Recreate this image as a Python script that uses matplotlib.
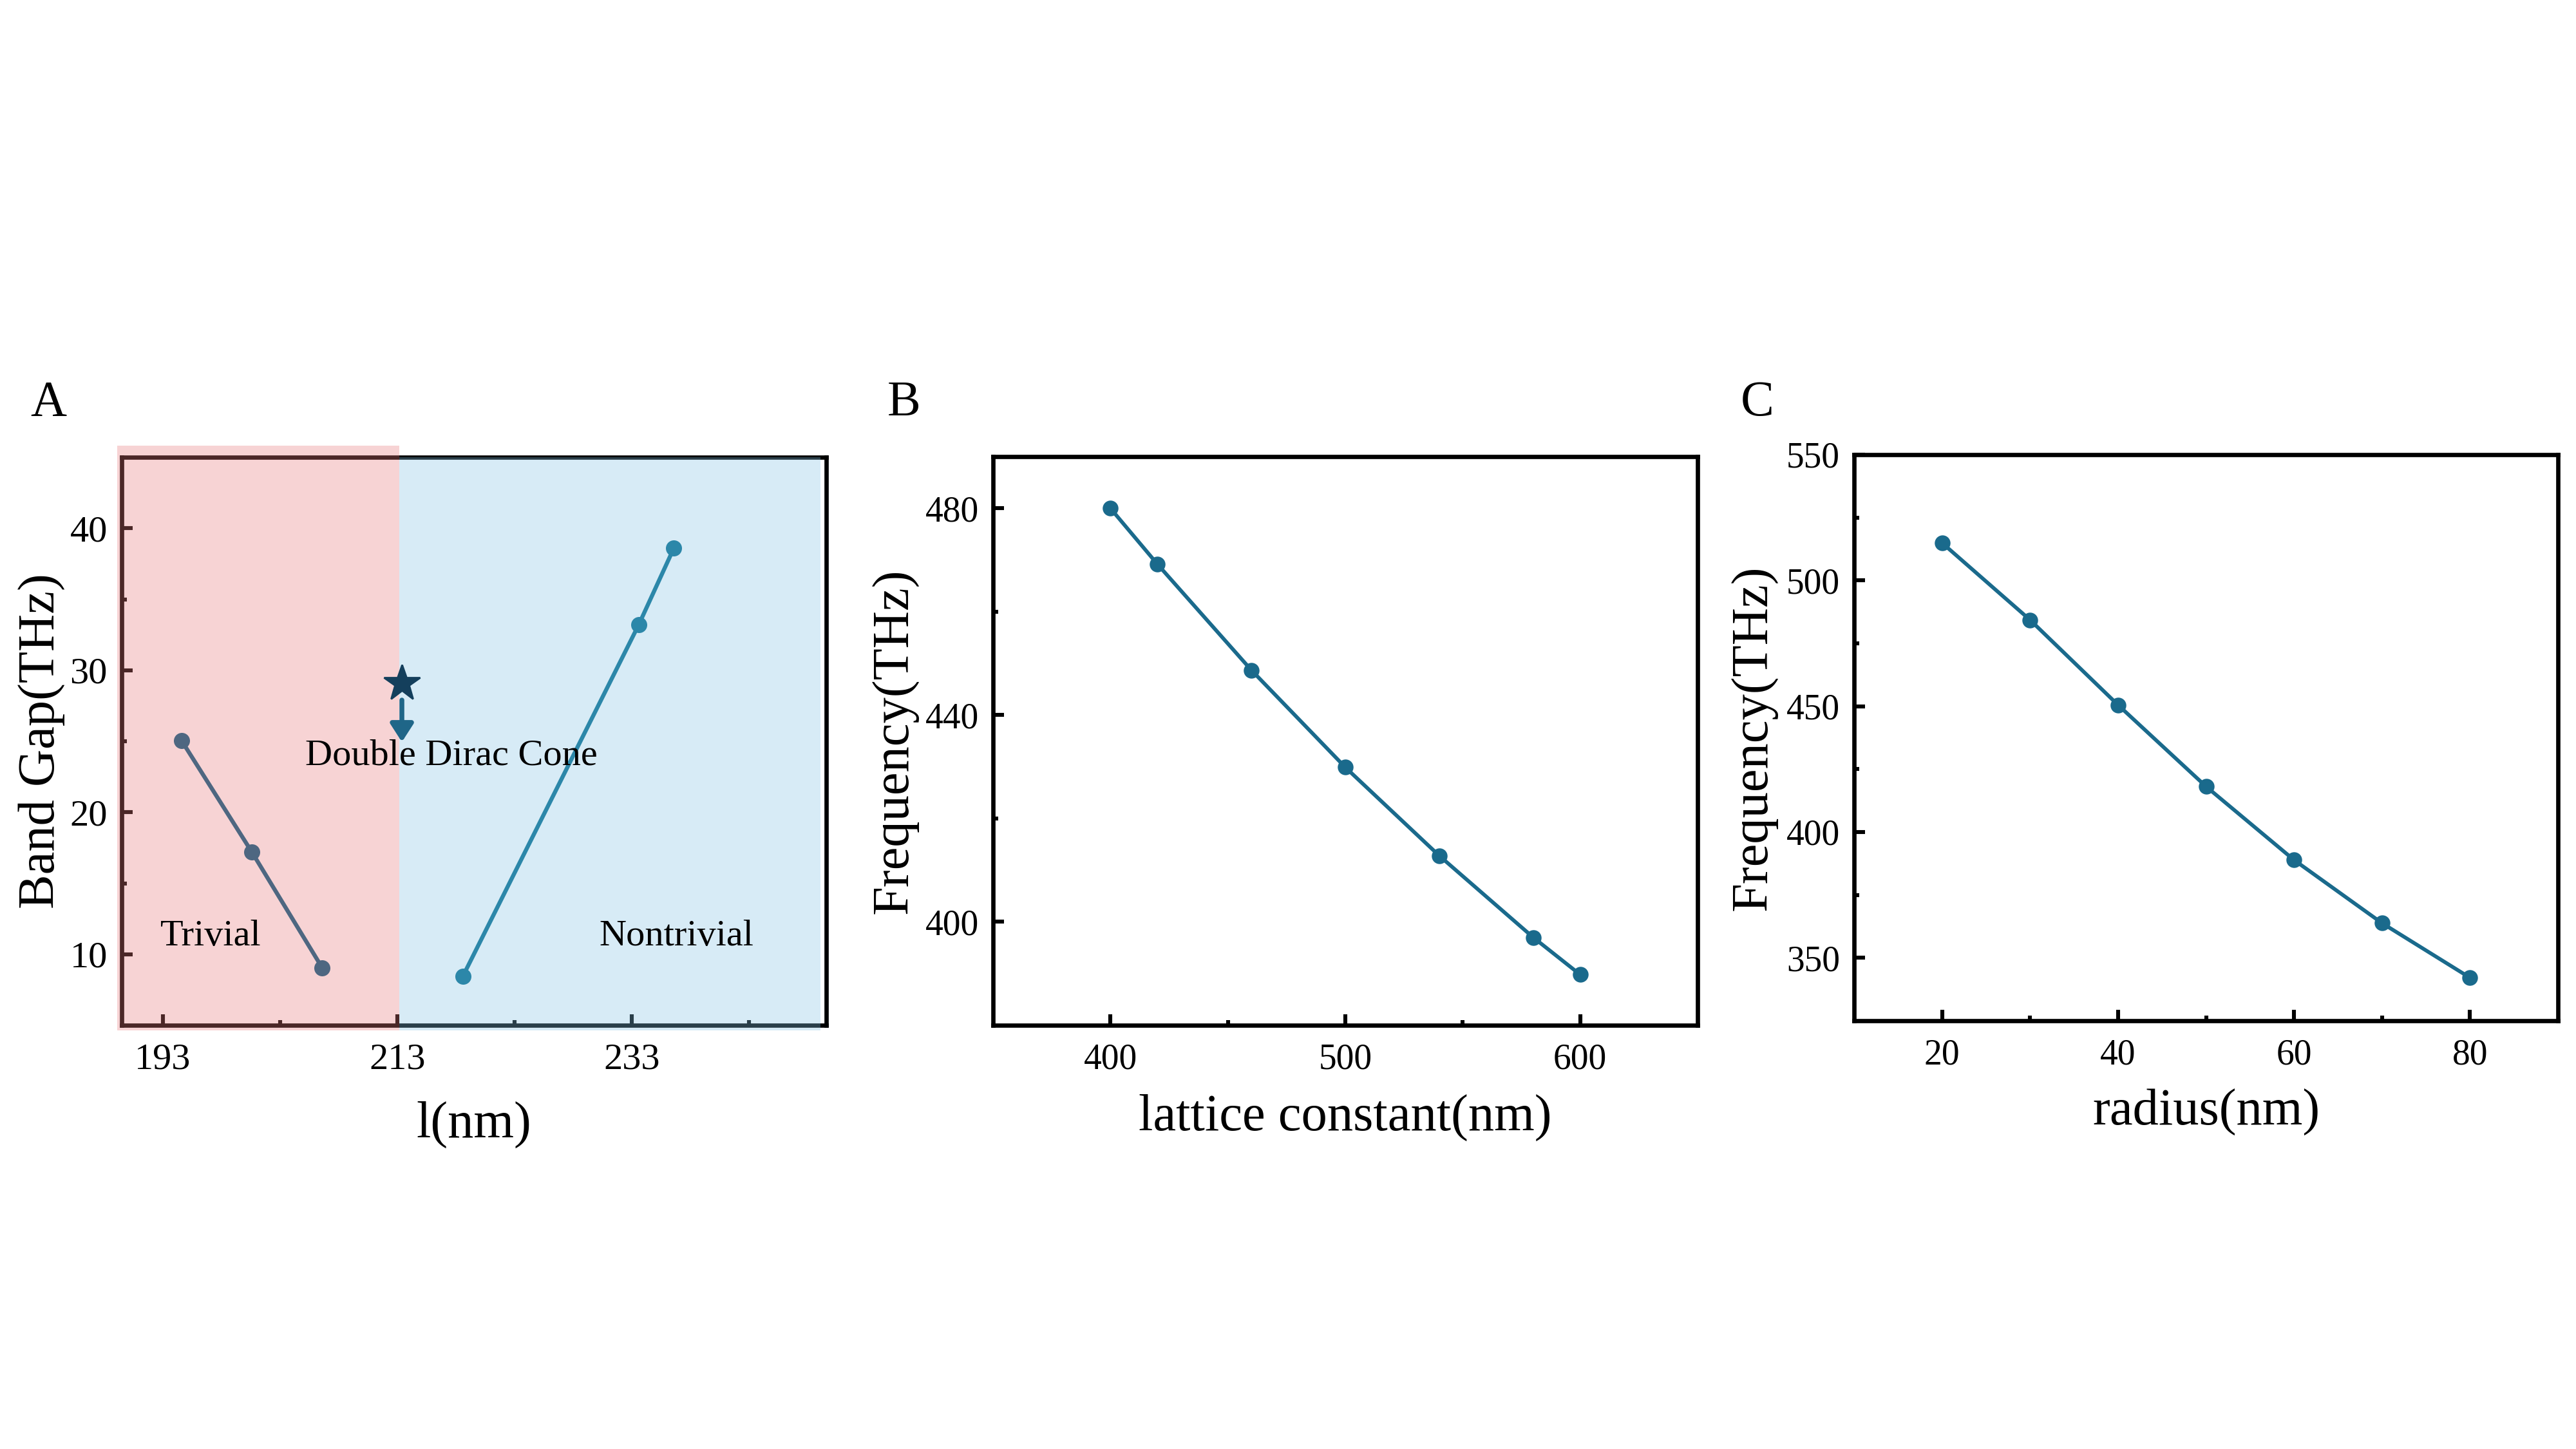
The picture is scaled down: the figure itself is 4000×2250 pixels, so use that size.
import matplotlib
matplotlib.use("Agg")
import matplotlib.pyplot as plt
from matplotlib.patches import Rectangle
from matplotlib.ticker import FixedLocator

plt.rcParams['font.family'] = ['Liberation Serif', 'DejaVu Serif']
plt.rcParams['mathtext.fontset'] = 'stix'

# panel A: band gap vs l
l_trivial = [194.6, 200.6, 206.6]
gap_trivial = [25.05, 17.2, 9.05]
l_nontrivial = [218.6, 233.6, 236.6]
gap_nontrivial = [8.45, 33.2, 38.6]
dirac_point = (213.4, 29.1)

# panel B: frequency vs lattice constant
lattice = [400, 420, 460, 500, 540, 580, 600]
freq_lattice = [480.0, 469.2, 448.7, 429.9, 412.8, 397.0, 389.8]

# panel C: frequency vs radius
radius = [20, 30, 40, 50, 60, 70, 80]
freq_radius = [514.9, 484.3, 450.5, 418.1, 388.9, 363.8, 342.1]

line_col = '#1A6A8C'
tick_fs = 21
label_fs = 29


def style_axes(ax, xmaj, xmin, ymaj, ymin, lab_fs):
    for s in ax.spines.values():
        s.set_linewidth(2.4)
        s.set_color('black')
    ax.xaxis.set_major_locator(FixedLocator(xmaj))
    ax.xaxis.set_minor_locator(FixedLocator(xmin))
    ax.yaxis.set_major_locator(FixedLocator(ymaj))
    ax.yaxis.set_minor_locator(FixedLocator(ymin))
    ax.tick_params(which='both', direction='in', top=False, right=False)
    ax.tick_params(which='major', length=6, width=2.2, labelsize=lab_fs)
    ax.tick_params(which='minor', length=3, width=2.2)
    ax.tick_params(axis='x', which='major', pad=10)
    ax.tick_params(axis='y', which='major', pad=8)


fig = plt.figure(figsize=(20, 11.25), dpi=200)

# ---------------- A ----------------
axA = fig.add_axes([0.04725, 0.29244, 0.2735, 0.392])
axA.set_xlim(189.5, 249.6)
axA.set_ylim(5, 45)
style_axes(axA, [193, 213, 233], [203, 223, 243], [10, 20, 30, 40], [15, 25, 35], tick_fs)

# shaded regions (drawn over the frame, like the original)
axA.add_patch(Rectangle((189.1, 4.64), 213.2 - 189.1, 45.8 - 4.64, facecolor='#E7787B',
                        alpha=0.325, edgecolor='none', zorder=3, clip_on=False))
axA.add_patch(Rectangle((213.2, 4.64), 249.1 - 213.2, 45.0 - 4.64, facecolor='#84C2E4',
                        alpha=0.325, edgecolor='none', zorder=3, clip_on=False))

axA.plot(l_trivial, gap_trivial, '-o', color='#4E6781', lw=2.3, ms=8, zorder=5)
axA.plot(l_nontrivial, gap_nontrivial, '-o', color='#2C87A9', lw=2.3, ms=8, zorder=5)
axA.plot(*dirac_point, marker='*', color='#143F5C', ms=21, zorder=6, clip_on=False)
axA.annotate('', xy=(dirac_point[0], 24.95), xytext=(dirac_point[0], 27.9),
             arrowprops=dict(arrowstyle='-|>,head_width=0.27,head_length=0.42',
                             color='#1F6688', lw=2.7, shrinkA=0, shrinkB=0,
                             mutation_scale=20), zorder=6)
axA.text(217.6, 24.0, 'Double Dirac Cone', fontsize=21, ha='center', va='center', zorder=7)
axA.text(197.1, 11.25, 'Trivial', fontsize=21, ha='center', va='center', zorder=7)
axA.text(236.8, 11.25, 'Nontrivial', fontsize=21, ha='center', va='center', zorder=7)

axA.set_xlabel('l(nm)', fontsize=label_fs)
axA.set_ylabel('Band Gap(THz)', fontsize=label_fs)
axA.xaxis.set_label_coords(0.5, -0.175)
axA.xaxis.label.set_verticalalignment('center')
axA.yaxis.set_label_coords(-0.113, 0.5)
axA.yaxis.label.set_verticalalignment('center')

# ---------------- B ----------------
axB = fig.add_axes([0.3855, 0.29244, 0.2735, 0.3924])
axB.set_xlim(350, 650)
axB.set_ylim(380, 490)
style_axes(axB, [400, 500, 600], [450, 550], [400, 440, 480], [420, 460], 20)
axB.plot(lattice, freq_lattice, '-o', color=line_col, lw=2.1, ms=7.8)
axB.set_xlabel('lattice constant(nm)', fontsize=label_fs)
axB.set_ylabel('Frequency(THz)', fontsize=label_fs)
axB.xaxis.set_label_coords(0.5, -0.162)
axB.xaxis.label.set_verticalalignment('center')
axB.yaxis.set_label_coords(-0.139, 0.5)
axB.yaxis.label.set_verticalalignment('center')

# ---------------- C ----------------
axC = fig.add_axes([0.71975, 0.29556, 0.27325, 0.3907])
axC.set_xlim(10, 90)
axC.set_ylim(325, 550)
style_axes(axC, [20, 40, 60, 80], [30, 50, 70], [350, 400, 450, 500, 550],
           [375, 425, 475, 525], 20)
axC.plot(radius, freq_radius, '-o', color=line_col, lw=2.1, ms=7.8)
axC.set_xlabel('radius(nm)', fontsize=label_fs)
axC.set_ylabel('Frequency(THz)', fontsize=label_fs)
axC.xaxis.set_label_coords(0.5, -0.162)
axC.xaxis.label.set_verticalalignment('center')
axC.yaxis.set_label_coords(-0.142, 0.5)
axC.yaxis.label.set_verticalalignment('center')

# panel letters
for x, letter in [(47, 'A'), (1378, 'B'), (2703, 'C')]:
    fig.text(x / 4000, 1 - 645 / 2250, letter, fontsize=28, ha='left', va='baseline')

fig.savefig('out.png', dpi=200, facecolor='white')
